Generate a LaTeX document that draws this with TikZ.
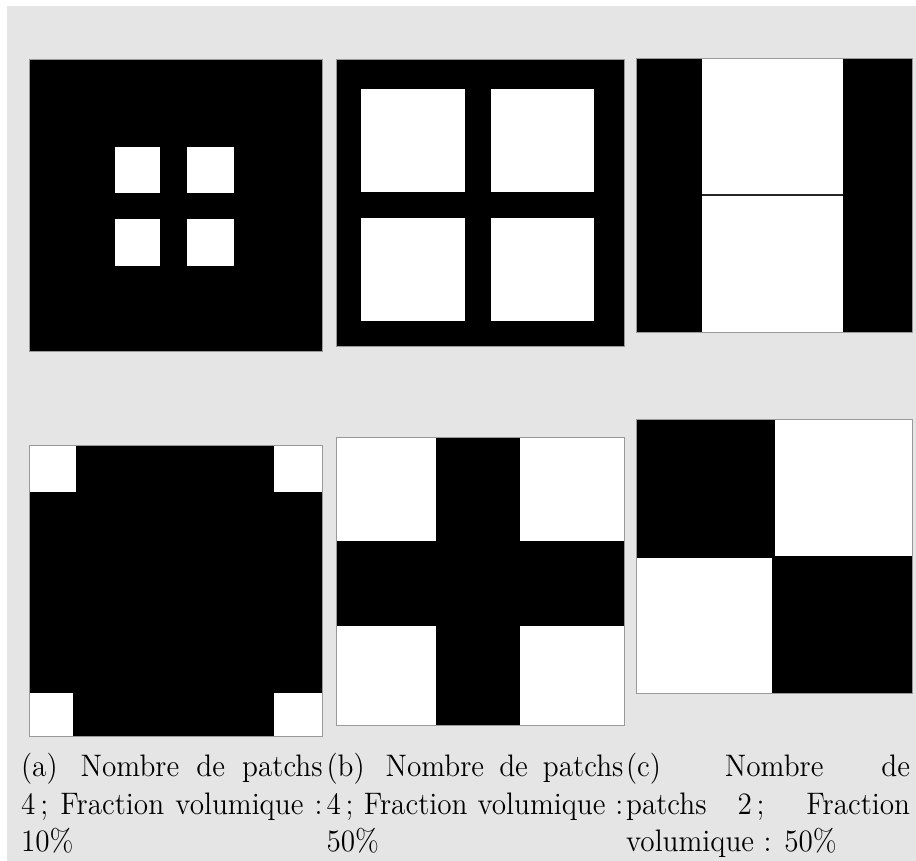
\documentclass[tikz,border=0pt]{standalone}
\usepackage{graphicx}
\definecolor{bg}{RGB}{229,229,229}
\tikzset{
  blk/.style={fill=black},
  wht/.style={fill=white},
  frame/.style={draw=black!40, line width=0.35pt},
  captext/.style={anchor=base west, inner sep=0pt, outer sep=0pt},
}
\newcommand{\capbox}[2]{\scalebox{0.94}[1]{\parbox[t]{#1}{\fontsize{12}{14.4}\selectfont #2}}}
\begin{document}
\begin{tikzpicture}[x=0.3859pt,y=-0.3859pt]
\useasboundingbox (0,0) rectangle (916,861);
\fill[white] (0,0) rectangle (916,861);
\fill[bg] (7,6) rectangle (916,861);

% (a)
\fill[blk] (29,59) rectangle (322,351);
\fill[wht] (115,146.7) rectangle (160.3,192.7);
\fill[wht] (186.7,146.7) rectangle (234,192.7);
\fill[wht] (115,219) rectangle (160.3,266.3);
\fill[wht] (186.7,219) rectangle (234,266.3);
\draw[frame] (29,59) rectangle (322,351);

% (b)
\fill[blk] (336,59.3) rectangle (624,346);
\fill[wht] (361.3,88.7) rectangle (464.7,192);
\fill[wht] (491,88.7) rectangle (594.3,192);
\fill[wht] (361.3,217.7) rectangle (464.7,321);
\fill[wht] (491,217.7) rectangle (594.3,321);
\draw[frame] (336,59.3) rectangle (624,346);

% (c)
\fill[wht] (636,58.3) rectangle (912.3,332.3);
\fill[blk] (636,58.3) rectangle (702.3,332.3);
\fill[blk] (842.7,58.3) rectangle (912.3,332.3);
\draw[black!85, line width=0.7pt] (702.3,195.3) -- (842.7,195.3);
\draw[frame] (636,58.3) rectangle (912.3,332.3);

% (d)
\fill[blk] (29,445) rectangle (322,736.7);
\fill[wht] (29,445) rectangle (76,492.3);
\fill[wht] (274.3,445) rectangle (322,492.3);
\fill[wht] (29,692.7) rectangle (72.7,736.7);
\fill[wht] (274.3,692.7) rectangle (322,736.7);
\draw[frame] (29,445) rectangle (322,736.7);

% (e)
\fill[wht] (336,437.7) rectangle (624,725);
\fill[blk] (435.7,437.7) rectangle (520.3,725);
\fill[blk] (336,541.3) rectangle (624,625.7);
\draw[frame] (336,437.7) rectangle (624,725);

% (f)
\fill[wht] (636,419) rectangle (912.3,693.3);
\fill[blk] (636,419) rectangle (775,557.7);
\fill[blk] (771.7,555.7) rectangle (912.3,693.3);
\draw[frame] (636,419) rectangle (912.3,693.3);

% captions
\node[captext] (capa) at (21.1,776.7) {\capbox{123.8pt}{(a)\hspace{0.2em} Nombre de patchs\linebreak 4\,; Fraction volumique~:\linebreak 10\%}};
\node[captext] (capb) at (326.5,776.7) {\capbox{121.9pt}{(b)\hspace{0.2em} Nombre de patchs\linebreak 4\,; Fraction volumique~:\linebreak 50\%}};
\node[captext] (capc) at (626.1,776.7) {\capbox{116.6pt}{(c)\hspace{0.2em} Nombre de\linebreak patchs 2\,; Fraction\linebreak volumique~: 50\%}};
\end{tikzpicture}
\end{document}
